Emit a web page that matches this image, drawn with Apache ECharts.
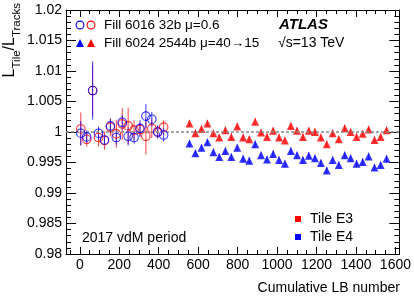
<!DOCTYPE html>
<html><head><meta charset="utf-8">
<script src="https://cdn.jsdelivr.net/npm/echarts@6/dist/echarts.min.js"></script>
<style>html,body{margin:0;padding:0;background:#fff}#c{width:414px;height:303px}</style>
</head><body><div id="c"></div><script>
// ---- data ----
const lb6016 = [5,35,65,95,125,155,185,215,245,275,305,335,365,395,425];
const e4Fill6016 = [0.9998,0.9992,1.0068,0.9998,0.9987,1.0010,0.9991,1.0016,0.9993,0.9991,1.0006,1.0026,1.0021,1.0000,0.9995];
const e4Fill6016Err = [0.0020,0.0011,0.0048,0.0011,0.0008,0.0011,0.0012,0.0012,0.0015,0.0010,0.0014,0.0020,0.0012,0.0011,0.0011];
const e3Fill6016 = [1.0005,0.9988,1.0068,0.9991,0.9986,1.0008,0.9997,1.0013,1.0010,1.0003,1.0004,0.9993,1.0006,1.0000,1.0008];
const e3Fill6016Err = [0.0027,0.0012,0.0042,0.0015,0.0015,0.0015,0.0023,0.0026,0.0030,0.0016,0.0011,0.0030,0.0016,0.0010,0.0012];

const lb6024 = [556,586,617,647,677,707,738,768,798,828,859,889,919,949,980,1010,1040,1070,1101,1131,1161,1192,1222,1252,1282,1313,1343,1373,1403,1434,1464,1494,1525,1555];
const e3Fill6024 = [1.0014,0.9998,1.0005,1.0014,0.9998,0.9991,1.0003,0.9992,1.0009,0.9991,0.9988,1.0017,0.9999,0.9992,1.0002,0.9991,0.9986,1.0010,1.0002,0.9992,1.0002,1.0000,0.9991,0.9980,0.9998,0.9988,1.0006,1.0000,0.9992,0.9997,1.0004,0.9987,0.9992,1.0003];
const e4Fill6024 = [0.9981,0.9965,0.9974,0.9983,0.9967,0.9959,0.9969,0.9959,0.9974,0.9956,0.9953,0.9980,0.9962,0.9955,0.9964,0.9954,0.9948,0.9969,0.9962,0.9954,0.9961,0.9957,0.9949,0.9937,0.9954,0.9946,0.9962,0.9957,0.9948,0.9951,0.9960,0.9942,0.9946,0.9956];
const err6024 = 0.0006;
const refLevel = 1;

const xTickLabels = [0,200,400,600,800,1000,1200,1400,1600];
const xMinorTicks = [-50,50,100,150,250,300,350,450,500,550,650,700,750,850,900,950,1050,1100,1150,1250,1300,1350,1450,1500,1550];
const yTickLabels = [0.98,0.985,0.99,0.995,1,1.005,1.01,1.015,1.02];

// ---- chart ----
const RED = '#ff0000', BLUE = '#0000ff';
const FONT = '"Liberation Sans", Arial, Helvetica, sans-serif';
const chart = echarts.init(document.getElementById('c'), null, {renderer: 'canvas'});

const zip = (xs, ys, es) => xs.map((x, i) => es === undefined ? [x, ys[i]] : [x, ys[i], Array.isArray(es) ? es[i] : es]);

function errSeries(data, color, opacity, z) {
  return {
    type: 'custom', xAxisIndex: 0, yAxisIndex: 0, z: z, silent: true,
    data: data,
    encode: {x: 0, y: 1},
    renderItem: function (params, api) {
      const x = api.value(0), y = api.value(1), e = api.value(2);
      const p1 = api.coord([x, y - e]), p2 = api.coord([x, y + e]);
      return {type: 'line', shape: {x1: p1[0], y1: p1[1], x2: p2[0], y2: p2[1]},
        style: {stroke: color, lineWidth: 1, opacity: opacity}};
    }
  };
}

const baseX = {type: 'value', min: -70, max: 1620, gridIndex: 0, splitLine: {show: false}};
const baseY = {type: 'value', min: 0.98, max: 1.02, interval: 0.005, gridIndex: 0, splitLine: {show: false}};
const axisLine = {show: true, onZero: false, lineStyle: {color: '#000', width: 1}};

const option = {
  animation: false,
  backgroundColor: '#fff',
  grid: {left: 66, right: 13, top: 10, bottom: 49, containLabel: false},
  xAxis: [
    Object.assign({}, baseX, {position: 'bottom', axisLine: axisLine,
      axisTick: {show: true, inside: true, length: 7, customValues: xTickLabels, lineStyle: {color: '#000'}},
      axisLabel: {show: true, customValues: xTickLabels, margin: 4, fontSize: 14, color: '#000', fontFamily: FONT,
        formatter: v => String(v)}}),
    Object.assign({}, baseX, {position: 'bottom', axisLine: {show: false},
      axisTick: {show: true, inside: true, length: 4, customValues: xMinorTicks, lineStyle: {color: '#000'}},
      axisLabel: {show: false}}),
    Object.assign({}, baseX, {position: 'top', axisLine: axisLine,
      axisTick: {show: true, inside: true, length: 7, customValues: xTickLabels, lineStyle: {color: '#000'}},
      axisLabel: {show: false}}),
    Object.assign({}, baseX, {position: 'top', axisLine: {show: false},
      axisTick: {show: true, inside: true, length: 4, customValues: xMinorTicks, lineStyle: {color: '#000'}},
      axisLabel: {show: false}})
  ],
  yAxis: [
    Object.assign({}, baseY, {position: 'left', axisLine: axisLine,
      axisTick: {show: true, inside: true, length: 10, lineStyle: {color: '#000'}},
      minorTick: {show: true, splitNumber: 5, length: 5, lineStyle: {color: '#000'}},
      axisLabel: {show: true, margin: 4, fontSize: 14, color: '#000', fontFamily: FONT,
        customValues: yTickLabels, formatter: v => String(+v.toFixed(3))}}),
    Object.assign({}, baseY, {position: 'right', axisLine: axisLine,
      axisTick: {show: true, inside: true, length: 10, lineStyle: {color: '#000'}},
      minorTick: {show: true, splitNumber: 5, length: 5, lineStyle: {color: '#000'}},
      axisLabel: {show: false}})
  ],
  series: [
    {
      type: 'line', xAxisIndex: 0, yAxisIndex: 0, data: [], z: 1, silent: true,
      markLine: {silent: true, symbol: ['none', 'none'], label: {show: false},
        lineStyle: {color: '#888', type: [3, 2], width: 1.5},
        data: [{yAxis: refLevel}]}
    },
    errSeries(zip(lb6016, e3Fill6016, e3Fill6016Err), RED, 0.75, 2),
    errSeries(zip(lb6016, e4Fill6016, e4Fill6016Err), BLUE, 0.75, 3),
    errSeries(zip(lb6024, e3Fill6024, err6024), RED, 0.6, 2),
    errSeries(zip(lb6024, e4Fill6024, err6024), BLUE, 0.6, 2),
    {type: 'scatter', xAxisIndex: 0, yAxisIndex: 0, z: 4, silent: true, symbol: 'circle', symbolSize: 8.5,
      itemStyle: {color: 'rgba(0,0,0,0)', borderColor: RED, borderWidth: 1.1},
      data: zip(lb6016, e3Fill6016)},
    {type: 'scatter', xAxisIndex: 0, yAxisIndex: 0, z: 5, silent: true, symbol: 'circle', symbolSize: 8.5,
      itemStyle: {color: 'rgba(0,0,0,0)', borderColor: BLUE, borderWidth: 1.1},
      data: zip(lb6016, e4Fill6016)},
    {type: 'scatter', xAxisIndex: 0, yAxisIndex: 0, z: 4, silent: true, symbol: 'triangle', symbolSize: 8,
      itemStyle: {color: RED}, data: zip(lb6024, e3Fill6024)},
    {type: 'scatter', xAxisIndex: 0, yAxisIndex: 0, z: 4, silent: true, symbol: 'triangle', symbolSize: 8,
      itemStyle: {color: BLUE}, data: zip(lb6024, e4Fill6024)}
  ],
  graphic: [
    // legend markers
    {type: 'circle', shape: {cx: 80, cy: 25, r: 3.9}, style: {fill: 'none', stroke: BLUE, lineWidth: 1.1}},
    {type: 'circle', shape: {cx: 91, cy: 25, r: 3.9}, style: {fill: 'none', stroke: RED, lineWidth: 1.1}},
    {type: 'polygon', shape: {points: [[76, 47], [84, 47], [80, 39]]}, style: {fill: BLUE}},
    {type: 'polygon', shape: {points: [[87, 47], [95, 47], [91, 39]]}, style: {fill: RED}},
    {type: 'text', x: 104, y: 25, style: {text: 'Fill 6016 32b \u03bc=0.6', font: '13.5px ' + FONT, fill: '#000', textVerticalAlign: 'middle'}},
    {type: 'text', x: 104, y: 43, style: {text: 'Fill 6024 2544b \u03bc=40\u219215', font: '13.5px ' + FONT, fill: '#000', textVerticalAlign: 'middle'}},
    {type: 'text', x: 279, y: 25, style: {text: 'ATLAS', font: 'italic bold 15px ' + FONT, fill: '#000', textVerticalAlign: 'middle'}},
    {type: 'text', x: 278, y: 43, style: {text: '\u221as=13 TeV', font: '14px ' + FONT, fill: '#000', textVerticalAlign: 'middle'}},
    {type: 'rect', shape: {x: 295, y: 216, width: 6, height: 6}, style: {fill: RED}},
    {type: 'rect', shape: {x: 295, y: 234, width: 6, height: 6}, style: {fill: BLUE}},
    {type: 'text', x: 310, y: 219, style: {text: 'Tile E3', font: '14px ' + FONT, fill: '#000', textVerticalAlign: 'middle'}},
    {type: 'text', x: 310, y: 237, style: {text: 'Tile E4', font: '14px ' + FONT, fill: '#000', textVerticalAlign: 'middle'}},
    {type: 'text', x: 82, y: 238, style: {text: '2017 vdM period', font: '14px ' + FONT, fill: '#000', textVerticalAlign: 'middle'}},
    {type: 'text', x: 400, y: 288, style: {text: 'Cumulative LB number', font: '14px ' + FONT, fill: '#000', textAlign: 'right', textVerticalAlign: 'middle'}},
    // y axis title, rotated
    {type: 'text', x: 2, y: 3, rotation: Math.PI / 2,
      style: {text: '{m|L}{s|Tile}{m|/L}{s|Tracks}', fill: '#000', align: 'right', verticalAlign: 'top',
        rich: {
          m: {fontSize: 16, fontFamily: FONT, height: 16, lineHeight: 21, verticalAlign: 'top', fill: '#000'},
          s: {fontSize: 11.5, fontFamily: FONT, height: 11.5, lineHeight: 21, verticalAlign: 'bottom', fill: '#000'}
        }}}
  ]
};
chart.setOption(option);
</script></body></html>
